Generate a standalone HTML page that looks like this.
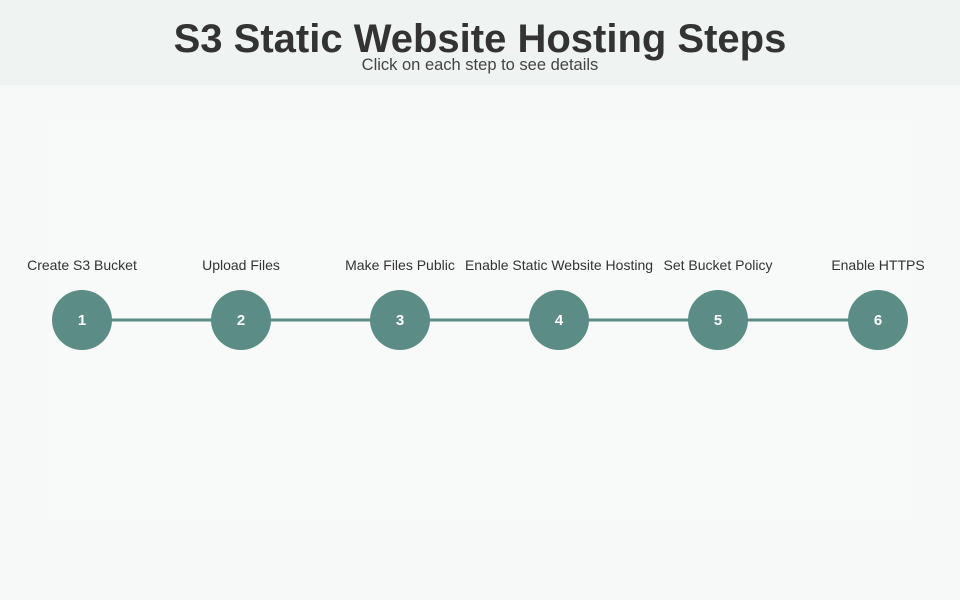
<!DOCTYPE html>
<html><head><style>
body{margin:0;width:960px;height:600px;background:#f7f8f8;font-family:"Liberation Sans",sans-serif;position:relative;overflow:hidden}
.hdr{position:absolute;left:0;top:0;width:960px;height:85px;background:#eff3f2}
.t{position:absolute;left:0;width:960px;text-align:center;top:17px;font-size:40px;font-weight:bold;color:#333}
.s{position:absolute;left:0;width:960px;text-align:center;top:56px;font-size:16.5px;color:#444}
.panel{position:absolute;left:48px;top:120px;width:864px;height:400px;background:#f8f9f9}
</style></head><body>
<div class="hdr"></div>
<div class="t">S3 Static Website Hosting Steps</div>
<div class="s">Click on each step to see details</div>
<div class="panel"></div>
<svg width="960" height="600" style="position:absolute;left:0;top:0">
<line x1="82" y1="320" x2="878" y2="320" stroke="#5b8c85" stroke-width="3"/>
<g fill="#5b8c85">
<circle cx="82" cy="320" r="30"/><circle cx="241" cy="320" r="30"/><circle cx="400" cy="320" r="30"/>
<circle cx="559" cy="320" r="30"/><circle cx="718" cy="320" r="30"/><circle cx="878" cy="320" r="30"/>
</g>
<g fill="#fff" font-family="Liberation Sans, sans-serif" font-size="15" font-weight="bold" text-anchor="middle">
<text x="82" y="325">1</text><text x="241" y="325">2</text><text x="400" y="325">3</text>
<text x="559" y="325">4</text><text x="718" y="325">5</text><text x="878" y="325">6</text>
</g>
<g fill="#333" font-family="Liberation Sans, sans-serif" font-size="14" text-anchor="middle">
<text x="82" y="270">Create S3 Bucket</text><text x="241" y="270">Upload Files</text>
<text x="400" y="270">Make Files Public</text><text x="559" y="270">Enable Static Website Hosting</text>
<text x="718" y="270">Set Bucket Policy</text><text x="878" y="270">Enable HTTPS</text>
</g>
</svg>
</body></html>
